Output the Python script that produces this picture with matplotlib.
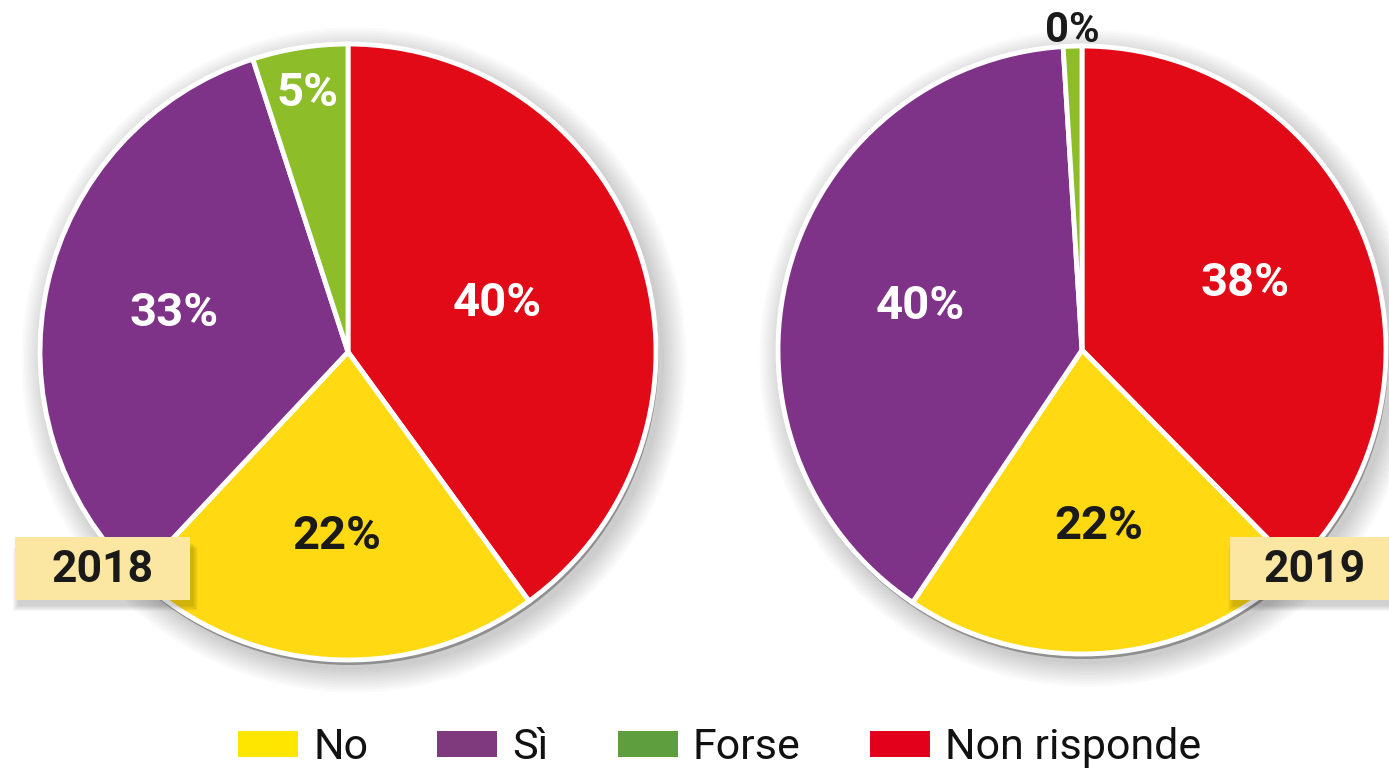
import matplotlib
matplotlib.use('Agg')
import matplotlib.pyplot as plt
from matplotlib.patches import Circle, Rectangle, Patch
import numpy as np

# ---- data ----
categories = ['No', 'Sì', 'Forse', 'Non risponde']
years = ['2018', '2019']
values_2018 = [22, 33, 5, 40]
values_2019 = [22, 40, 1, 38]
labels_2018 = ['22%', '33%', '5%', '40%']
labels_2019 = ['22%', '40%', '0%', '38%']

# ---- styles ----
pie_colors = ['#FFDA12', '#7F3388', '#8DBE2A', '#E20A17']
legend_colors = ['#FFE600', '#7F3A7E', '#5E9E3E', '#E2001A']
label_colors = ['#1a1a1a', 'white', 'white', 'white']
draw_order = [3, 0, 1, 2]  # clockwise from top: Non risponde, No, Sì, Forse

plt.rcParams['font.family'] = ['Roboto', 'DejaVu Sans']

W, H = 1389, 772
fig = plt.figure(figsize=(W / 100, H / 100), dpi=100)
ax = fig.add_axes([0, 0, 1, 1])

pies = [
    dict(values=values_2018, labels=labels_2018, center=(348, H - 352), radius=308,
         dists=[0.60, 0.58, 0.85, 0.51], outside_color=None),
    dict(values=values_2019, labels=labels_2019, center=(1082, H - 350), radius=304,
         dists=[0.58, 0.55, 1.05, 0.58], outside_color='#1a1a1a'),
]

for p in pies:
    cx, cy = p['center']
    r = p['radius']
    # soft shadow
    for k in range(10):
        ax.add_patch(Circle((cx + 6, cy - 8), r + 2 + k * 2.5, facecolor='black',
                            edgecolor='none', alpha=0.018, zorder=0))
    ax.add_patch(Circle((cx + 1.5, cy - 4), r + 1, facecolor='#8f8f8f',
                        edgecolor='none', zorder=0.5))
    vals = [p['values'][i] for i in draw_order]
    cols = [pie_colors[i] for i in draw_order]
    wedges, _ = ax.pie(vals, colors=cols, startangle=90, counterclock=False,
                       center=(cx, cy), radius=r, frame=True,
                       wedgeprops=dict(edgecolor='white', linewidth=3.5))
    for w, i in zip(wedges, draw_order):
        mid = np.deg2rad((w.theta1 + w.theta2) / 2)
        d = p['dists'][i]
        tx = cx + d * r * np.cos(mid)
        ty = cy + d * r * np.sin(mid)
        col = label_colors[i]
        if d > 1 and p['outside_color']:
            col = p['outside_color']
        ax.text(tx, ty, p['labels'][i], ha='center', va='center',
                fontsize=34 if d <= 1 else 30, fontweight='bold', color=col, zorder=5)

# ---- year boxes ----
box_color = '#FCE7A2'
year_boxes = [(15, 190), (1230, 1389)]
for (x0, x1), yr in zip(year_boxes, years):
    y0, y1 = H - 600, H - 537
    for k in range(6):
        ax.add_patch(Rectangle((x0 + 3 - k, y0 - 6 - k), x1 - x0 + 2 * k, y1 - y0,
                               facecolor='black', edgecolor='none', alpha=0.03, zorder=6))
    ax.add_patch(Rectangle((x0, y0), x1 - x0, y1 - y0, facecolor=box_color,
                           edgecolor='none', zorder=7))
    cxb = (x0 + x1) / 2 if x1 < W else (x0 + 85)
    ax.text(cxb, (y0 + y1) / 2 - 1, yr, ha='center', va='center', fontsize=32,
            fontweight='bold', color='#1a1a1a', zorder=8)

ax.set_xlim(0, W)
ax.set_ylim(0, H)
ax.set_aspect('auto')
ax.axis('off')

# ---- legend ----
handles = [Patch(facecolor=c, edgecolor='none') for c in legend_colors]
fig.legend(handles=handles, labels=categories, loc='center',
           bbox_to_anchor=(0.518, 0.032), ncol=4, frameon=False, fontsize=31,
           handlelength=1.4, handleheight=0.55, handletextpad=0.35,
           columnspacing=1.6, borderpad=0, labelcolor='#111111')

fig.savefig('out.png', dpi=100, facecolor='white')
